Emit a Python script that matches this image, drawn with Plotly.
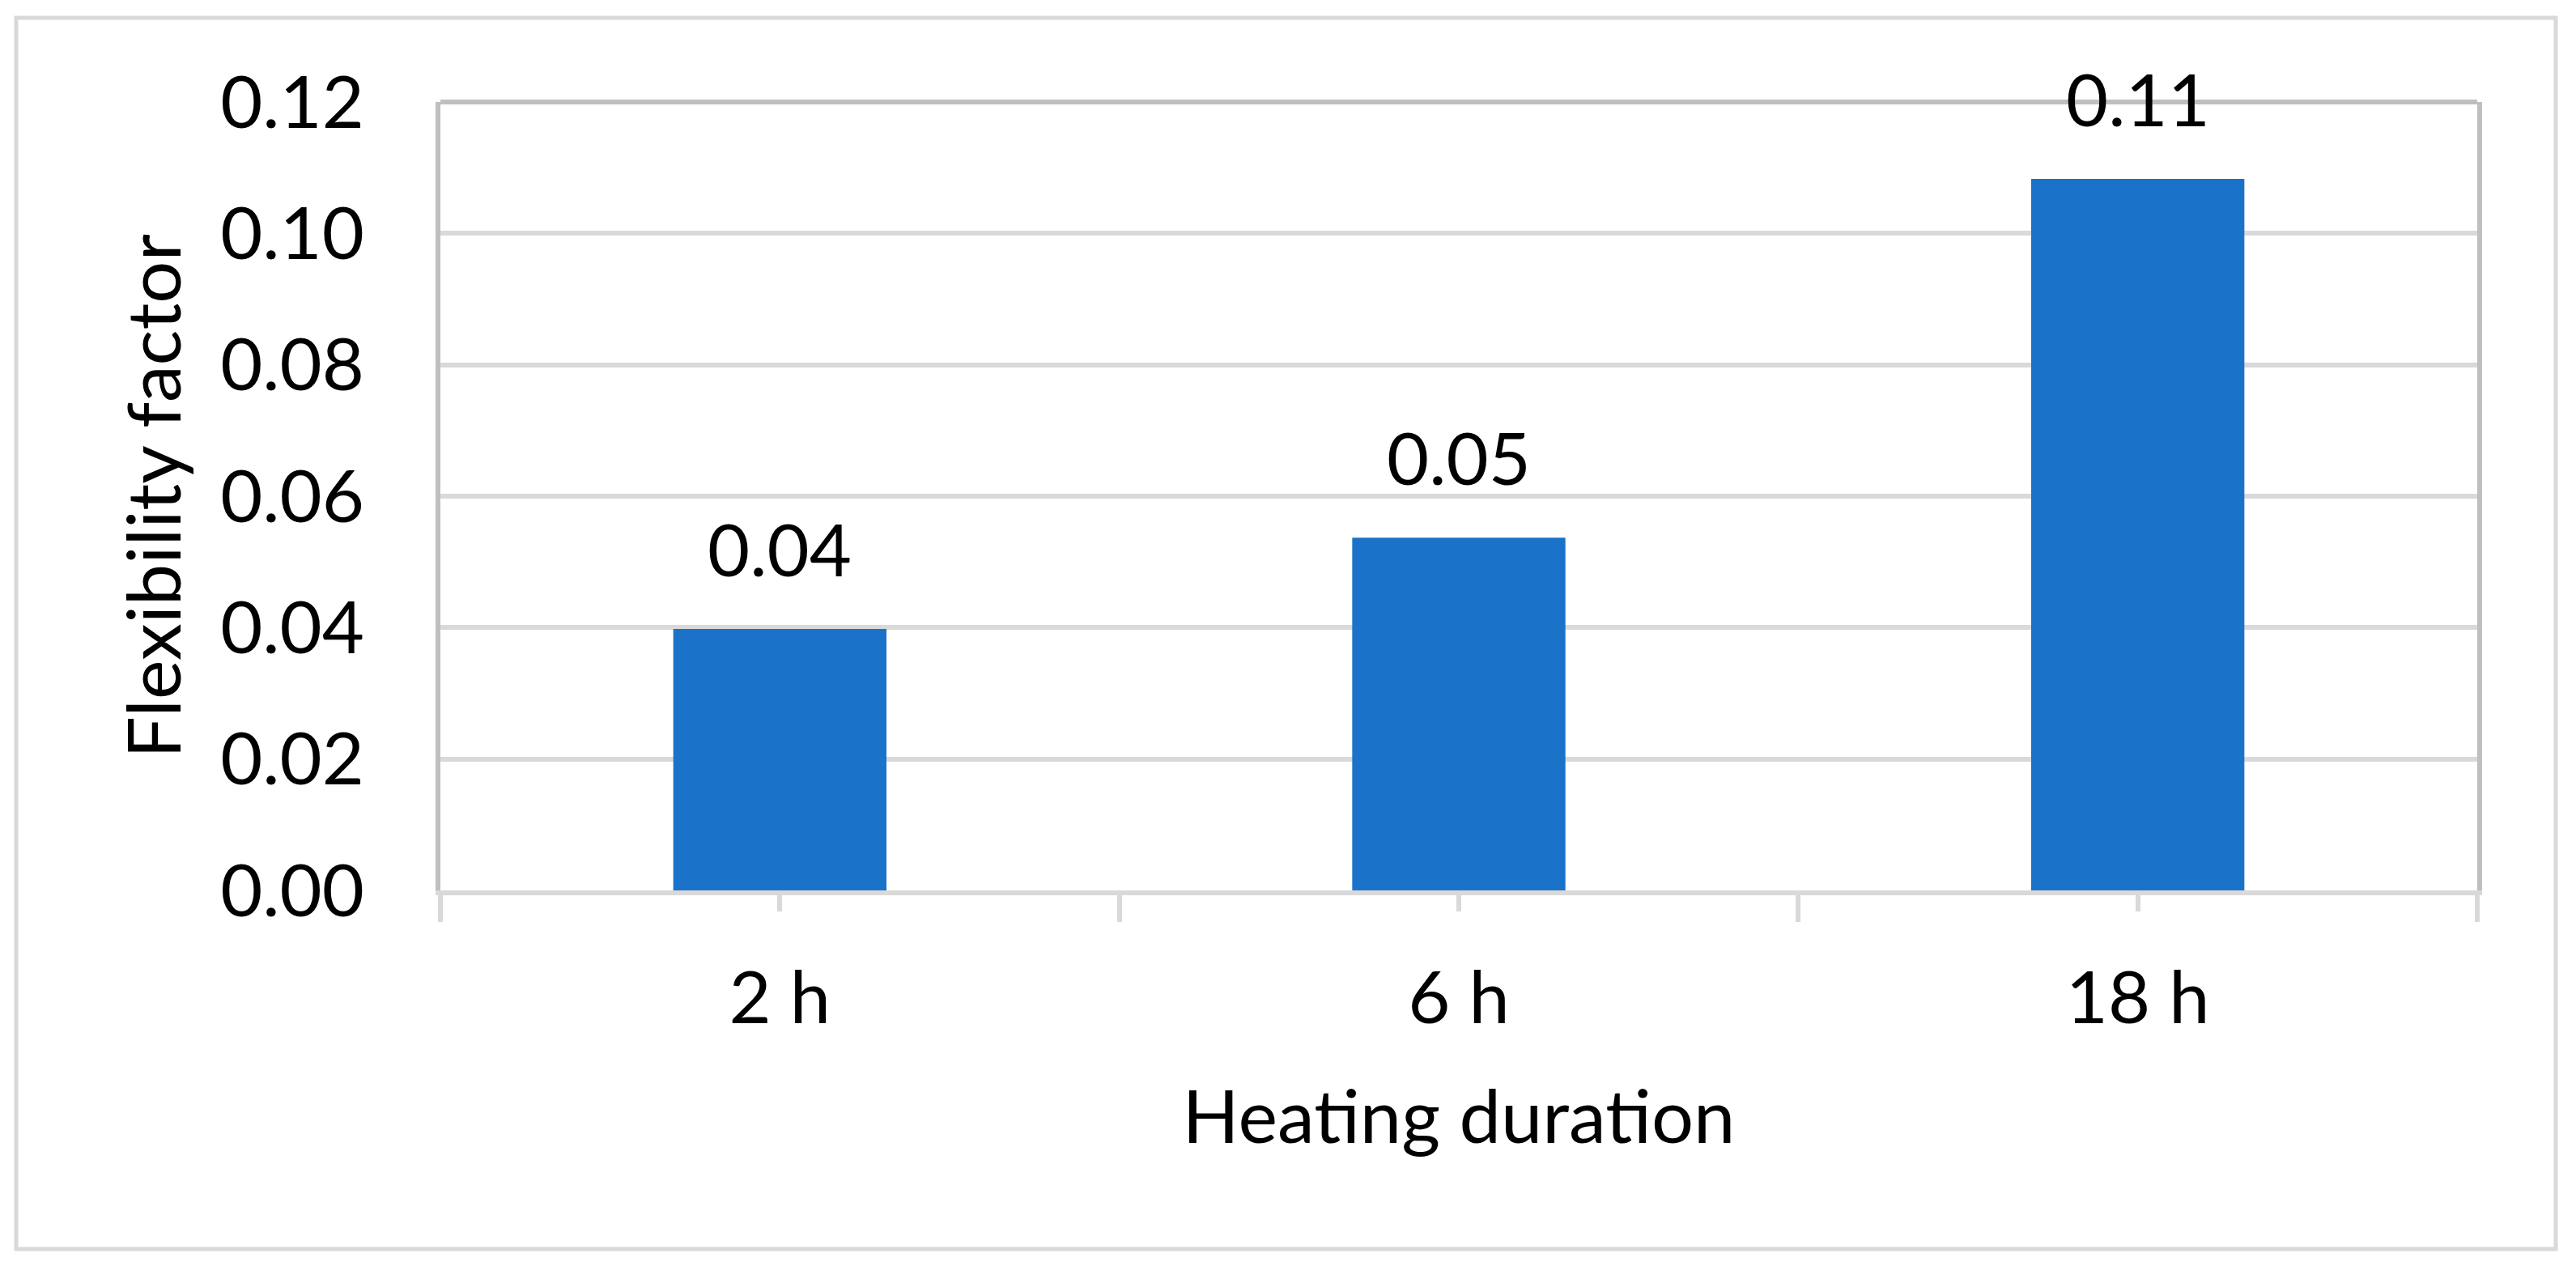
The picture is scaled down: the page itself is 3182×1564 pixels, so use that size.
import plotly.graph_objects as go

categories = ["2 h", "6 h", "18 h"]
values = [0.0398, 0.0537, 0.1083]
y_ticks = [0.00, 0.02, 0.04, 0.06, 0.08, 0.10, 0.12]

x_title = "Heating duration"
y_title = "Flexibility factor"

FONT = "Lato"
BLACK = "#000000"
BAR = "#1A73C8"
GRID = "#D9D9D9"
BORDER = "#BFBFBF"

W, H = 3182, 1564
L, R, T, B = 544, 122, 126, 464

xpos = list(range(len(categories)))

fig = go.Figure()
fig.add_trace(go.Bar(
    x=xpos, y=values, width=0.314,
    marker=dict(color=BAR, line=dict(width=0)),
    hoverinfo="skip", showlegend=False,
))

for xi, v in zip(xpos, values):
    fig.add_annotation(
        x=xi, y=v, xref="x", yref="y",
        text=f"{v:.2f}", showarrow=False,
        yanchor="bottom", yshift=44,
        font=dict(family=FONT, size=90, color=BLACK),
    )

pw = W - L - R
ph = H - T - B
def px_x(p):
    return (p - L) / pw
def px_y(p):
    return (H - B - p) / ph

# outer frame
fig.add_shape(type="rect", xref="paper", yref="paper",
              x0=px_x(20), x1=px_x(3157), y0=px_y(1543), y1=px_y(22),
              line=dict(color=GRID, width=5), fillcolor="rgba(0,0,0,0)", layer="below")
# top border of plot area
fig.add_shape(type="line", xref="x domain", yref="y domain",
              x0=0, x1=1, y0=1, y1=1,
              line=dict(color=BORDER, width=6), layer="above")

fig.update_layout(
    width=W, height=H,
    margin=dict(l=L, r=R, t=T, b=B, pad=0),
    paper_bgcolor="white", plot_bgcolor="white",
    font=dict(family=FONT, size=90, color=BLACK),
    bargap=0.686,
)

fig.update_xaxes(
    range=[-0.5, len(categories) - 0.5],
    tickvals=xpos, ticktext=categories,
    ticks="outside", ticklen=20, tickwidth=6, tickcolor=GRID,
    minor=dict(ticks="outside", tick0=-0.5, dtick=1, ticklen=33, tickwidth=6, tickcolor=GRID),
    showline=True, linecolor=GRID, linewidth=6,
    showgrid=False, zeroline=False,
    ticklabelstandoff=30,
    tickfont=dict(family=FONT, size=90, color=BLACK),
    title=dict(text=x_title, font=dict(family=FONT, size=92, color=BLACK), standoff=68),
)

fig.update_yaxes(
    range=[0, 0.12],
    tickvals=y_ticks, tickformat=".2f",
    ticks="", showline=True, linecolor=BORDER, linewidth=6, mirror=True,
    showgrid=True, gridcolor=GRID, gridwidth=6,
    zeroline=False,
    ticklabelstandoff=70,
    tickfont=dict(family=FONT, size=90, color=BLACK),
    title=dict(text=y_title, font=dict(family=FONT, size=92, color=BLACK), standoff=20),
)

fig.write_html(
    "out.html",
    config={"displayModeBar": False, "staticPlot": True},
    post_script="document.body.style.margin='0';document.body.style.overflow='hidden';",
)
